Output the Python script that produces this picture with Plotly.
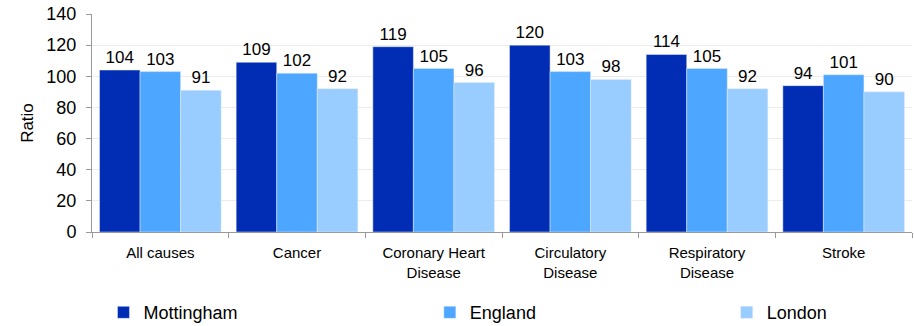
import plotly.graph_objects as go

categories = ["All causes", "Cancer", "Coronary Heart<br>Disease", "Circulatory<br>Disease",
              "Respiratory<br>Disease", "Stroke"]
mottingham = [104, 109, 119, 120, 114, 94]
england = [103, 102, 105, 103, 105, 101]
london = [91, 92, 96, 98, 92, 90]

series = [("Mottingham", mottingham, "#002db3", "legend", 0.014),
          ("England", england, "#4da6ff", "legend2", 0.412),
          ("London", london, "#99ccff", "legend3", 0.774)]

fig = go.Figure()
legends = {}
for name, vals, col, leg, lx in series:
    fig.add_trace(go.Bar(
        x=categories, y=vals, name=name, marker_color=col, legend=leg, showlegend=True,
        text=vals, textposition="outside", cliponaxis=False,
        textfont=dict(size=17, color="black"),
    ))
    # one legend per series so the gaps follow the text widths like the original
    legends[leg] = dict(orientation="h", x=lx, y=-0.285, xanchor="left", yanchor="top",
                        font=dict(size=18), bgcolor="rgba(0,0,0,0)")

fig.update_layout(
    width=914, height=326, showlegend=True,
    margin=dict(l=92, r=2, t=14, b=94, autoexpand=False),
    barmode="group", bargap=0.11, bargroupgap=0,
    plot_bgcolor="white", paper_bgcolor="white",
    font=dict(family="Liberation Sans, Arial, sans-serif", color="black"),
    **legends,
)
fig.update_yaxes(
    range=[0, 140], dtick=20, title=dict(text="Ratio", font=dict(size=17), standoff=8),
    tickfont=dict(size=18), showgrid=True, gridcolor="#ececec", ticklabelstandoff=6,
    showline=True, linecolor="#999999", ticks="outside", tickcolor="#999999", ticklen=5,
)
fig.update_xaxes(
    tickfont=dict(size=15), showline=True, linecolor="#999999", ticklabelstandoff=7,
    ticks="outside", tickson="boundaries", tickcolor="#999999", ticklen=5,
)

fig.write_html("out.html", config={"displayModeBar": False},
               post_script="document.body.style.margin='0';")
